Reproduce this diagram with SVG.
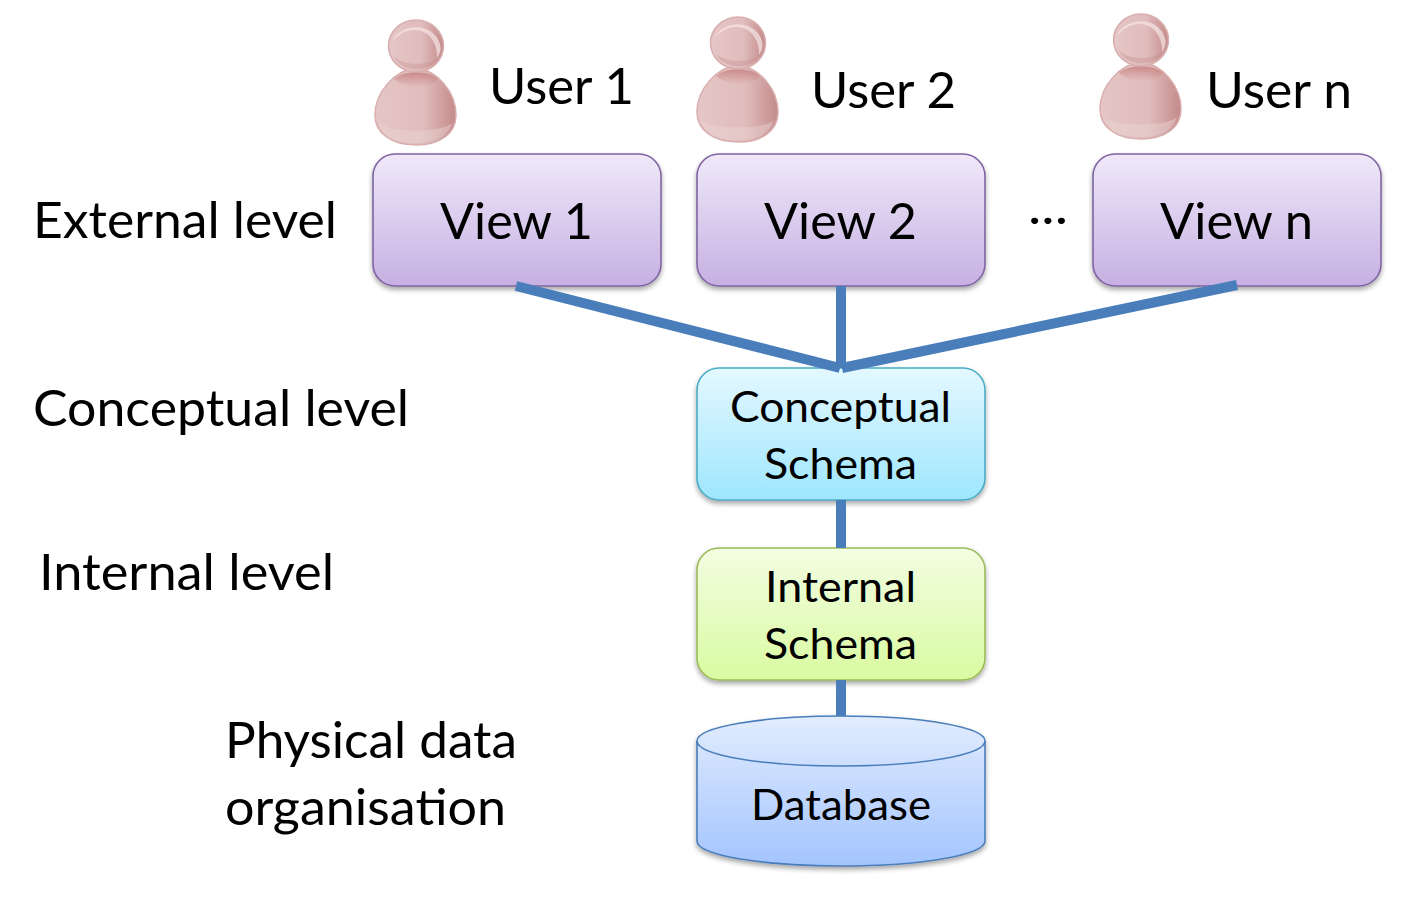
<svg xmlns="http://www.w3.org/2000/svg" width="1422" height="898" viewBox="0 0 1422 898">
<style>
text{font-family:Lato,"Open Sans","Liberation Sans",sans-serif;fill:#000}
.big{font-size:50px}.mid{font-size:43px}
.c{stroke:#4a7ebb;stroke-width:10;fill:none}
.view{fill:url(#gv);stroke:#8064a2;stroke-width:1.6;filter:url(#sh)}
</style>
<defs>
<linearGradient id="gv" x1="0" y1="0" x2="0" y2="1"><stop offset="0" stop-color="#efe9f9"/><stop offset="1" stop-color="#c6b0e2"/></linearGradient>
<linearGradient id="gc" x1="0" y1="0" x2="0" y2="1"><stop offset="0" stop-color="#e4f8ff"/><stop offset="1" stop-color="#9ee6fe"/></linearGradient>
<linearGradient id="gi" x1="0" y1="0" x2="0" y2="1"><stop offset="0" stop-color="#f3fde2"/><stop offset="1" stop-color="#d9fba0"/></linearGradient>
<linearGradient id="gd" x1="0" y1="0" x2="0" y2="1"><stop offset="0" stop-color="#e2ecfe"/><stop offset="1" stop-color="#a3c4fe"/></linearGradient>
<linearGradient id="gu" x1="0" y1="0" x2="1" y2="0"><stop offset="0" stop-color="#e6c6c6"/><stop offset=".6" stop-color="#e0bcbc"/><stop offset="1" stop-color="#c48a8a"/></linearGradient>
<linearGradient id="gs" x1="0" y1="0" x2="0" y2="1"><stop offset="0" stop-color="#c88080" stop-opacity=".85"/><stop offset="1" stop-color="#c88888" stop-opacity="0"/></linearGradient>
<g id="person">
<path d="M41 48C20 50 0 72 0 95C0 113 16 125 41 125C66 125 81 113 81 95C81 72 62 50 41 48Z" fill="url(#gu)" stroke="#d8aeae" stroke-width="1.500"/>
<path d="M19 59C28 50 54 50 63 59C55 70 30 70 19 59Z" fill="url(#gs)"/>
<path d="M4 103C14 113 68 113 77 103C72 118 60 123 41 123C22 123 9 118 4 103Z" fill="#ecd4d4" opacity=".45"/>
<ellipse cx="41" cy="26" rx="27.500" ry="26" fill="url(#gu)" stroke="#d8aeae" stroke-width="1.500"/>
<path d="M17 22C24 3 58 1 65 24C67 32 63 36 62 38C63 24 54 10 40 10C30 10 22 15 17 22Z" fill="#f6e6e6" opacity=".7"/>
<path d="M19 37C30 46 52 46 63 38C56 52 28 54 19 37Z" fill="#c48a8a" opacity=".35"/>
</g>
<filter id="sh" x="-5%" y="-5%" width="110%" height="115%"><feDropShadow dx="0" dy="3" stdDeviation="2.500" flood-color="#000" flood-opacity=".35"/></filter>
</defs>
<rect width="1422" height="898" fill="#fff"/>
<g id="user1"><use href="#person" x="375" y="20"/><text class="big" x="489" y="104" textLength="145" lengthAdjust="spacingAndGlyphs">User 1</text></g>
<g id="user2"><use href="#person" x="697" y="17"/><text class="big" x="811" y="108" textLength="145" lengthAdjust="spacingAndGlyphs">User 2</text></g>
<g id="usern"><use href="#person" x="1100" y="14"/><text class="big" x="1206" y="108" textLength="146" lengthAdjust="spacingAndGlyphs">User n</text></g>
<g id="view1"><rect class="view" x="373" y="154" width="288" height="132" rx="22"/><text class="big" x="440" y="239" textLength="153" lengthAdjust="spacingAndGlyphs">View 1</text></g>
<g id="view2"><rect class="view" x="697" y="154" width="288" height="132" rx="22"/><text class="big" x="764" y="239" textLength="153" lengthAdjust="spacingAndGlyphs">View 2</text></g>
<g id="viewn"><rect class="view" x="1093" y="154" width="288" height="132" rx="22"/><text class="big" x="1160" y="239" textLength="153" lengthAdjust="spacingAndGlyphs">View n</text></g>
<g id="dots"><text class="big" x="1028" y="224" textLength="40" lengthAdjust="spacingAndGlyphs">...</text></g>
<g id="conceptual"><rect x="697" y="368" width="288" height="132" rx="22" fill="url(#gc)" stroke="#4bacc6" stroke-width="1.600" filter="url(#sh)"/><text class="mid" x="730" y="422" textLength="221" lengthAdjust="spacingAndGlyphs">Conceptual</text><text class="mid" x="764" y="479" textLength="153" lengthAdjust="spacingAndGlyphs">Schema</text></g>
<g id="internal"><rect x="697" y="548" width="288" height="132" rx="22" fill="url(#gi)" stroke="#9bbb59" stroke-width="1.600" filter="url(#sh)"/><text class="mid" x="765" y="602" textLength="151" lengthAdjust="spacingAndGlyphs">Internal</text><text class="mid" x="764" y="659" textLength="153" lengthAdjust="spacingAndGlyphs">Schema</text></g>
<g id="database">
<path d="M697 741C697 727 761 716 841 716C921 716 985 727 985 741V841C985 855 921 866 841 866C761 866 697 855 697 841Z" fill="url(#gd)" stroke="#4a7ebb" stroke-width="1.600" filter="url(#sh)"/>
<path d="M697 741C697 755 761 766 841 766C921 766 985 755 985 741" fill="none" stroke="#4a7ebb" stroke-width="1.600"/>
<text class="mid" x="751" y="820" textLength="180" lengthAdjust="spacingAndGlyphs">Database</text>
</g>
<g id="labels">
<text class="big" x="33" y="238" textLength="304" lengthAdjust="spacingAndGlyphs">External level</text>
<text class="big" x="33" y="426" textLength="376" lengthAdjust="spacingAndGlyphs">Conceptual level</text>
<text class="big" x="39" y="590" textLength="295" lengthAdjust="spacingAndGlyphs">Internal level</text>
<text class="big" x="225" y="758" textLength="292" lengthAdjust="spacingAndGlyphs">Physical data</text>
<text class="big" x="225" y="825" textLength="281" lengthAdjust="spacingAndGlyphs">organisation</text>
</g>
<g id="connectors">
<line class="c" x1="516" y1="286" x2="840" y2="368"/>
<line class="c" x1="841" y1="286" x2="841" y2="368"/>
<line class="c" x1="1237" y1="285" x2="842" y2="368"/>
<line class="c" x1="841" y1="500" x2="841" y2="548"/>
<line class="c" x1="841" y1="680" x2="841" y2="716"/>
</g>
</svg>
